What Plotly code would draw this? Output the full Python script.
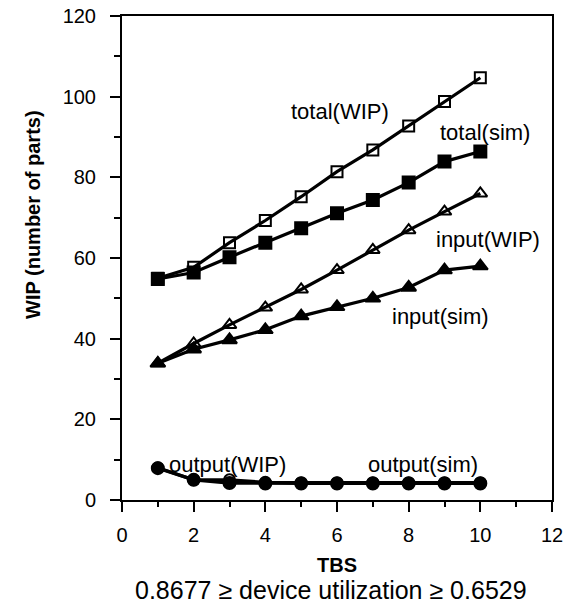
import plotly.graph_objects as go

tbs = [1, 2, 3, 4, 5, 6, 7, 8, 9, 10]
total_wip = [55.0, 57.7, 63.8, 69.3, 75.2, 81.4, 86.8, 92.7, 98.8, 104.7]
total_sim = [54.8, 56.4, 60.2, 63.8, 67.4, 71.1, 74.4, 78.7, 83.9, 86.4]
input_wip = [33.9, 38.8, 43.4, 47.7, 52.2, 57.0, 62.0, 66.9, 71.5, 76.0]
input_sim = [33.9, 37.4, 39.7, 42.2, 45.6, 47.9, 50.0, 52.7, 57.0, 58.0]
output_wip = [8.0, 5.0, 5.0, 4.4, 4.3, 4.3, 4.3, 4.3, 4.3, 4.3]
output_sim = [7.9, 5.0, 4.2, 4.1, 4.1, 4.1, 4.1, 4.1, 4.1, 4.1]

labels = [
    ("total(WIP)", 6.08, 96.3),
    ("total(sim)", 10.14, 91.0),
    ("input(WIP)", 10.22, 64.7),
    ("input(sim)", 8.88, 45.6),
    ("output(WIP)", 2.95, 8.7),
    ("output(sim)", 8.39, 8.7),
]

FONT = "Liberation Sans, Arial, Helvetica, sans-serif"
fig = go.Figure()

def add(y, symbol, size):
    fig.add_trace(go.Scatter(
        x=tbs, y=y, mode="lines+markers",
        line=dict(color="black", width=3.2),
        marker=dict(symbol=symbol, size=size, color="black",
                    line=dict(color="black", width=2)),
        showlegend=False, cliponaxis=False,
    ))

add(total_wip, "square-open", 11)
add(total_sim, "square", 12)
add(input_wip, "triangle-up-open", 12)
add(input_sim, "triangle-up", 13)
add(output_wip, "circle-open", 11)
add(output_sim, "circle", 12)

for text, x, y in labels:
    fig.add_annotation(x=x, y=y, text=text, showarrow=False,
                       xanchor="center", yanchor="middle",
                       font=dict(family=FONT, size=22, color="black"))

fig.add_annotation(xref="paper", yref="paper", x=-0.207, y=0.591,
                   xanchor="center", yanchor="middle",
                   text="<b>WIP (number of parts)</b>", textangle=-90,
                   showarrow=False, font=dict(family=FONT, size=20, color="black"))
fig.add_annotation(xref="paper", yref="paper", x=0.5, y=-0.134,
                   xanchor="center", yanchor="middle",
                   text="<b>TBS</b>", showarrow=False,
                   font=dict(family=FONT, size=20, color="black"))
fig.add_annotation(xref="paper", yref="paper", x=0.487, y=-0.186,
                   xanchor="center", yanchor="middle",
                   text="0.8677 ≥ device utilization ≥ 0.6529", showarrow=False,
                   font=dict(family=FONT, size=25, color="black"))

fig.update_xaxes(range=[0, 12], dtick=2, tick0=0, showline=True, linewidth=2,
                 linecolor="black", mirror=True, ticks="outside", ticklen=10,
                 tickwidth=2, tickcolor="black", showgrid=False, zeroline=False,
                 ticklabelstandoff=6, automargin=False,
                 minor=dict(dtick=1, ticks="outside", ticklen=5, tickwidth=2,
                            tickcolor="black", showgrid=False),
                 tickfont=dict(family=FONT, size=20, color="black"))
fig.update_yaxes(range=[0, 120], dtick=20, tick0=0, showline=True, linewidth=2,
                 linecolor="black", mirror=True, ticks="outside", ticklen=10,
                 tickwidth=2, tickcolor="black", showgrid=False, zeroline=False,
                 ticklabelstandoff=10, automargin=False,
                 minor=dict(dtick=10, ticks="outside", ticklen=6, tickwidth=2,
                            tickcolor="black", showgrid=False),
                 tickfont=dict(family=FONT, size=20, color="black"))

fig.update_layout(width=570, height=609, margin=dict(l=122, r=18, t=16, b=109),
                  plot_bgcolor="white", paper_bgcolor="white")
fig.write_html("out.html")
